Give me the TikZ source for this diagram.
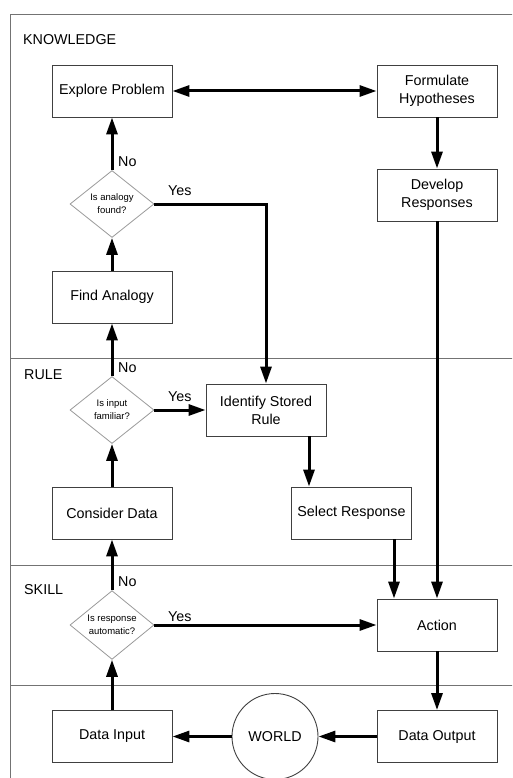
\documentclass[tikz,border=0pt]{standalone}
\usepackage{fontspec}
\setmainfont{Liberation Sans}
\usetikzlibrary{arrows.meta,shapes.geometric}
\begin{document}
\begin{tikzpicture}[x=1pt, y=-1pt, font=\fontsize{14.3}{18}\selectfont, line join=miter,
  box/.style={draw=black!75, line width=0.9pt, minimum width=120pt, minimum height=52pt, inner sep=0pt, align=center},
  ask/.style={diamond, draw=black!40, line width=0.8pt, minimum width=84pt, minimum height=67pt, inner sep=0pt, align=center, font=\fontsize{9.5}{13}\selectfont},
  arr/.style={line width=3pt, -{Triangle[length=17pt,width=11pt]}},
  lane/.style={draw=black!55, line width=0.9pt},
  tag/.style={anchor=west, inner sep=0pt}]
  \clip (0,0) rectangle (512,778);
  % swimlanes
  \draw[lane] (10,790) -- (10,14) -- (520,14);
  \draw[lane] (10,358) -- (520,358);
  \draw[lane] (10,565) -- (520,565);
  \draw[lane] (10,685) -- (520,685);
  \node[tag] (zk) at (23,40) {KNOWLEDGE};
  \node[tag] (zr) at (24,375) {RULE};
  \node[tag] (zs) at (24,590) {SKILL};
  % nodes
  \node[box] (expl) at (112,91) {Explore Problem};
  \node[box] (form) at (437,91) {Formulate\\Hypotheses};
  \node[box] (dev) at (437,195) {Develop\\Responses};
  \node[ask] (ana) at (112,204) {Is analogy\\found?};
  \node[box] (find) at (112,297) {Find Analogy};
  \node[ask] (fam) at (112,410) {Is input\\familiar?};
  \node[box] (rule) at (266,410) {Identify Stored\\Rule};
  \node[box] (cons) at (112,513) {Consider Data};
  \node[box] (sel) at (351.5,513) {Select Response};
  \node[ask] (aut) at (112,625) {Is response\\automatic?};
  \node[box] (act) at (437,625) {Action};
  \node[box] (dinp) at (112,736.5) {Data Input};
  \node[circle, draw=black!75, line width=0.9pt, minimum size=86pt, inner sep=0pt] (world) at (275,736.5) {WORLD};
  \node[box] (dout) at (437,736.5) {Data Output};
  % connectors
  \draw[arr] (dinp) -- (aut);
  \draw[arr] (aut) -- (cons);
  \draw[arr] (cons) -- (fam);
  \draw[arr] (fam) -- (find);
  \draw[arr] (find) -- (ana);
  \draw[arr] (ana) -- (expl);
  \draw[arr, {Triangle[length=17pt,width=11pt]}-{Triangle[length=17pt,width=11pt]}] (expl) -- (form);
  \draw[arr] (form) -- (dev);
  \draw[arr] (dev) -- (act);
  \draw[arr] (ana.east) -| (rule.north);
  \draw[arr] (fam) -- (rule);
  \draw[arr] ([xshift=43pt]rule.south) -- ([xshift=-42.5pt]sel.north);
  \draw[arr] ([xshift=42.5pt]sel.south) -- ([xshift=-43pt]act.north);
  \draw[arr] (aut) -- (act);
  \draw[arr] (act) -- (dout);
  \draw[arr] (dout) -- (world);
  \draw[arr] (world) -- (dinp);
  % answers
  \node[tag] (n1) at (118,162) {No};
  \node[tag] (y1) at (168,191) {Yes};
  \node[tag] (n2) at (118,368) {No};
  \node[tag] (y2) at (168,397) {Yes};
  \node[tag] (n3) at (118,582) {No};
  \node[tag] (y3) at (168,617) {Yes};
\end{tikzpicture}
\end{document}
